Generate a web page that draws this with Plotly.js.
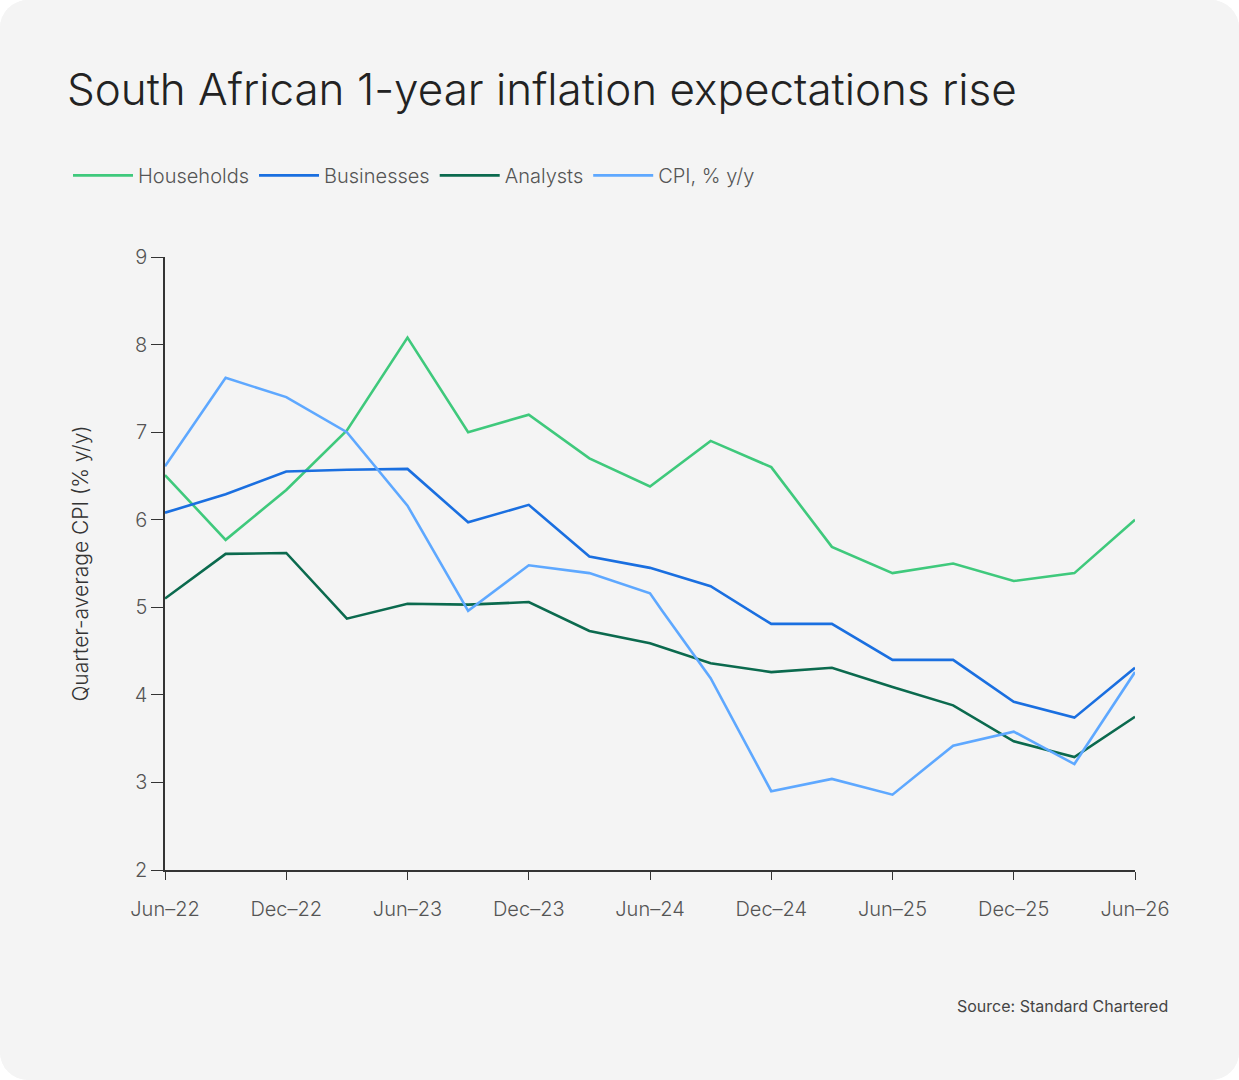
<!DOCTYPE html><html><head><script src="https://cdn.plot.ly/plotly-3.0.1.min.js"></script>
<style>body{margin:0;background:#fff}#c{width:1239px;height:1080px;border-radius:28px;overflow:hidden;background:#f4f4f4}</style></head><body><div id="c"></div><script>
const qx=[0,1,2,3,4,5,6,7,8,9,10,11,12,13,14,15,16];
const households=[6.51,5.77,6.34,7.02,8.08,7.0,7.2,6.7,6.38,6.9,6.6,5.69,5.39,5.5,5.3,5.39,6.0];
const businesses=[6.08,6.29,6.55,6.57,6.58,5.97,6.17,5.58,5.45,5.24,4.81,4.81,4.4,4.4,3.92,3.74,4.31];
const analysts=[5.1,5.61,5.62,4.87,5.04,5.03,5.06,4.73,4.59,4.36,4.26,4.31,4.09,3.88,3.47,3.29,3.75];
const cpiX=[0,1,2,3,4,5,6,7,8,8.2,9,10,11,12,13,14,15,16];
const cpi=[6.61,7.62,7.4,7.0,6.16,4.96,5.48,5.39,5.16,4.96,4.19,2.9,3.04,2.86,3.42,3.58,3.21,4.26];
const tickVals=[0,2,4,6,8,10,12,14,16];
const tickText=["Jun\u201322","Dec\u201322","Jun\u201323","Dec\u201323","Jun\u201324","Dec\u201324","Jun\u201325","Dec\u201325","Jun\u201326"];
const mk=(x,y,n,c)=>({x,y,name:n,mode:'lines',line:{color:c,width:2.6}});
Plotly.newPlot('c',[mk(qx,households,'Households','#3fc97c'),mk(qx,businesses,'Businesses','#1a6fe0'),mk(qx,analysts,'Analysts','#0b6a4e'),mk(cpiX,cpi,'CPI, % y/y','#5ea8ff')],{
width:1239,height:1080,paper_bgcolor:'#f4f4f4',plot_bgcolor:'#f4f4f4',
font:{family:'Inter, sans-serif',color:'#444',size:19},
title:{text:'South African 1-year inflation expectations rise',x:0.054,xanchor:'left',y:0.917,yanchor:'middle',font:{size:44,color:'#222',weight:300}},
showlegend:true,legend:{orientation:'h',x:-0.1,y:1.165,xanchor:'left',font:{size:20,color:'#555',weight:300},itemwidth:60,tracegroupgap:0},
margin:{l:165,r:104,t:257,b:210},
xaxis:{range:[0,16],tickvals:tickVals,ticktext:tickText,showgrid:false,zeroline:false,showline:true,linecolor:'#333',linewidth:1.5,ticks:'outside',ticklen:8,tickcolor:'#333',ticklabelstandoff:12,tickfont:{size:20,color:'#555',weight:300}},
yaxis:{range:[2,9],dtick:1,showgrid:false,zeroline:false,showline:true,linecolor:'#333',linewidth:1.5,ticks:'outside',ticklen:12,tickcolor:'#333',tickfont:{size:20,color:'#555',weight:300},title:{text:'Quarter-average CPI (% y/y)',font:{size:21,color:'#333',weight:300},standoff:40}},
annotations:[{text:'Source: Standard Chartered',xref:'paper',yref:'paper',x:1.036,y:-0.222,yanchor:'middle',xanchor:'right',showarrow:false,font:{size:16,color:'#444'}}]
},{displayModeBar:false});
</script></body></html>
